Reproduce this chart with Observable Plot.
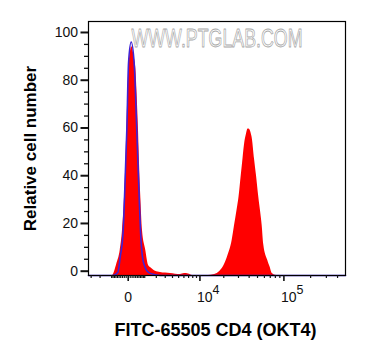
<!DOCTYPE html>
<html><head><meta charset="utf-8">
<script src="https://cdn.jsdelivr.net/npm/d3@7"></script>
<script src="https://cdn.jsdelivr.net/npm/@observablehq/plot@0.6"></script>
<style>body{margin:0;background:#fff;} svg{display:block}</style>
</head><body><div id="chart"></div>
<script>
// Sample (red, filled) histogram: fluorescence value and relative count
const redX = [-1958, -939, -643, -431, -298, -188, -120, -69, -20, 49, 115, 183, 237, 304, 408, 492, 573, 637, 723, 839, 1080, 1293, 1461, 1729, 1919, 2440, 3033, 3705, 4470, 5339, 6119, 6982, 7939, 10173, 12914, 14936, 17233, 19842, 22183, 25257, 26906, 28965, 30421, 31684, 33448, 35300, 37253, 38783, 40375, 42030, 43746, 46143, 48663, 51728, 56595, 59037, 65584, 70000, 73638, 82422, 490600];
const redY = [-1.8, -1.8, 3, 8.7, 17, 31, 45, 59, 73, 87, 92, 94, 93, 90, 85, 73, 59, 45, 31, 17, 8.7, 2.5, 1.5, 0.5, 0, -0.5, -0.8, -1.0, -1.3, -1.4, -1.0, -1.2, -1.8, -1.8, -1.8, -1.5, -0.5, 2, 6, 13, 19, 26, 31, 37, 45, 53, 57.5, 59.6, 59.5, 58, 55, 47, 40, 31, 19, 11, 4.5, 1.5, -1, -1.8, -1.8];
// Control (blue, outline) histogram
const blueX = [-3344, -1958, -939, -579, -431, -259, -188, -69, 15, 151, 315, 467, 617, 702, 839, 1035, 1293, 1919, 2440, 490600];
const blueY = [-1.8, -1.8, -1.8, -0.5, 5.9, 17, 31, 59, 87, 96, 87, 59, 31, 17, 5.9, 1.5, -0.5, -1.5, -1.8, -1.8];

const xDomain = [-3344, 490600];
const yDomain = [-1.8, 104.6];
const xMajorTicks = [0, 10000, 100000];
const xMinorTicks = [-3000, -2000, -1000, -900, -800, -700, -600, -500, -400, -300, -200, -100,
  100, 200, 300, 400, 500, 600, 700, 800, 900, 1000, 2000, 3000, 4000, 5000, 6000, 7000, 8000, 9000,
  20000, 30000, 40000, 50000, 60000, 70000, 80000, 90000, 200000, 300000, 400000];
const xLabelTicks = [0, 10000, 100000];
const xLabelBase = ["0", "10", "10"];
const xLabelExp = ["", "4", "5"];
const yMajorTicks = [0, 20, 40, 60, 80, 100];
const yMinorTicks = [5, 10, 15, 25, 30, 35, 45, 50, 55, 65, 70, 75, 85, 90, 95];
const xTitle = "FITC-65505 CD4 (OKT4)";
const yTitle = "Relative cell number";
const watermark = "WWW.PTGLAB.COM";

const red = redX.map((x, i) => ({x, y: redY[i]}));
const blue = blueX.map((x, i) => ({x, y: blueY[i]}));
const labels = xLabelTicks.map((v, i) => ({v, base: xLabelBase[i], exp: xLabelExp[i]}));

const chart = Plot.plot({
  width: 365, height: 360,
  marginLeft: 88, marginRight: 20, marginTop: 21, marginBottom: 85,
  style: {fontFamily: "'Liberation Sans', Arial, sans-serif", background: "white", color: "#111"},
  x: {type: "symlog", constant: 1900, domain: xDomain, label: null},
  y: {domain: yDomain, label: null},
  marks: [
    Plot.areaY(red, {x: "x", y1: yDomain[0], y2: "y", fill: "#ff0000", curve: "monotone-x"}),
    Plot.line(blue, {x: "x", y: "y", stroke: "#3f22d6", strokeWidth: 1.6, curve: "monotone-x"}),
    Plot.text([watermark], {frameAnchor: "top-left", textAnchor: "start", lineAnchor: "middle", dx: 43, dy: 25,
      fontSize: 17.8, fill: "white", fillOpacity: 0.5, stroke: "#a8a8a8", strokeWidth: 0.6, paintOrder: "normal"}),
    Plot.frame({stroke: "black", strokeWidth: 1.2}),
    Plot.axisY(yMajorTicks, {anchor: "left", tickSize: 7.5, tickPadding: 3, strokeWidth: 2, fontSize: 14, label: null}),
    Plot.axisY(yMinorTicks, {anchor: "left", tickSize: 4, strokeWidth: 1.3, tickFormat: () => "", label: null}),
    Plot.axisX(xMajorTicks, {anchor: "bottom", tickSize: 6, strokeWidth: 1.6, tickFormat: () => "", label: null}),
    Plot.axisX(xMinorTicks, {anchor: "bottom", tickSize: 3, strokeWidth: 1.2, tickFormat: () => "", label: null}),
    Plot.text(labels.filter(d => d.exp === ""), {x: "v", text: "base", frameAnchor: "bottom", lineAnchor: "middle", textAnchor: "middle", dy: 22.2, fontSize: 14}),
    Plot.text(labels.filter(d => d.exp !== ""), {x: "v", text: "base", frameAnchor: "bottom", lineAnchor: "middle", textAnchor: "middle", dx: 4.8, dy: 22.2, fontSize: 14}),
    Plot.text(labels.filter(d => d.exp !== ""), {x: "v", text: "exp", frameAnchor: "bottom", lineAnchor: "middle", textAnchor: "start", dx: 12.6, dy: 14.5, fontSize: 12.5}),
    Plot.text([xTitle], {frameAnchor: "bottom", lineAnchor: "middle", textAnchor: "middle", dx: -1.5, dy: 55.2, fontSize: 18, fontWeight: "bold", fill: "black"}),
    Plot.text([yTitle], {frameAnchor: "left", lineAnchor: "middle", textAnchor: "middle", rotate: -90, dx: -58.4, fontSize: 17, fontWeight: "bold", fill: "black"})
  ]
});
// Stretch the watermark vertically (tall, narrow letters as in the reference)
d3.select(chart).selectAll("text").filter(function() { return this.textContent === watermark; })
  .each(function() {
    const t = this.getAttribute("transform") || "";
    const x = +this.getAttribute("x") || 0;
    const y = +this.getAttribute("y") || 0;
    this.removeAttribute("x"); this.removeAttribute("y");
    this.setAttribute("transform", `${t} translate(${x},${y}) scale(1,1.4)`);
  });
document.getElementById("chart").appendChild(chart);
</script>
</body></html>
